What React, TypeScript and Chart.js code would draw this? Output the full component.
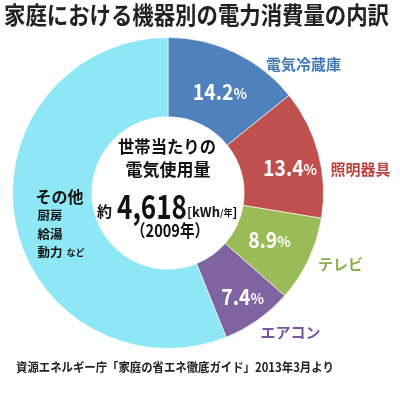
import React, { useEffect, useRef } from "react";
import { Chart, registerables } from "chart.js";

Chart.register(...registerables);

const TITLE = "家庭における機器別の電力消費量の内訳";
const SOURCE = "資源エネルギー庁「家庭の省エネ徹底ガイド」2013年3月より";
const categories = ["電気冷蔵庫", "照明器具", "テレビ", "エアコン", "その他"];
const shares = [14.2, 13.4, 8.9, 7.4, 56.1];
const sliceColors = ["#4F81BD", "#C0504D", "#9BBB59", "#8064A2", "#8DE7F4"];
const labelColors = ["#4077B9", "#BE3E3C", "#8AAE45", "#7657A3", "#111111"];
const otherItems = ["厨房", "給湯", "動力"];
const centerLines = ["世帯当たりの", "電気使用量"];
const totalValue = "4,618";
const totalYear = "（2009年）";

const JP = '"Noto Sans CJK JP", "Noto Sans", sans-serif';

function txt(
  ctx: CanvasRenderingContext2D,
  s: string,
  x: number,
  y: number,
  size: number,
  color: string,
  align: CanvasTextAlign = "left",
  maxWidth?: number,
  weight = "bold"
) {
  ctx.font = `${weight} ${size}px ${JP}`;
  ctx.fillStyle = color;
  ctx.textAlign = align;
  ctx.textBaseline = "middle";
  if (maxWidth) ctx.fillText(s, x, y, maxWidth);
  else ctx.fillText(s, x, y);
}

const labelPlugin = {
  id: "labelPlugin",
  afterDraw(chart: any) {
    const ctx: CanvasRenderingContext2D = chart.ctx;
    const meta = chart.getDatasetMeta(0);
    const arc0 = meta.data[0];
    const cx = arc0.x;
    const cy = arc0.y;
    const R = arc0.outerRadius;
    const k = R / 156;
    ctx.save();

    // title & source
    txt(ctx, TITLE, 4, 15, 24, "#222222", "left", 385);
    txt(ctx, SOURCE, 16, 367, 12.5, "#222222", "left", 318);

    // percentage labels inside slices
    const pctR = [114, 125, 112, 128];
    const pctDA = [1.6, 3.2, -0.7, -0.5];
    for (let i = 0; i < 4; i++) {
      const a = meta.data[i];
      const mid = (a.startAngle + a.endAngle) / 2 + (pctDA[i] * Math.PI) / 180;
      const px = cx + Math.cos(mid) * pctR[i] * k;
      const py = cy + Math.sin(mid) * pctR[i] * k;
      const num = shares[i].toFixed(1);
      ctx.font = `bold 22px ${JP}`;
      const w1 = ctx.measureText(num).width * 0.88;
      ctx.font = `bold 14px ${JP}`;
      const w2 = ctx.measureText("%").width;
      const left = px - (w1 + w2) / 2;
      txt(ctx, num, left, py, 22, "#FFFFFF", "left", w1);
      txt(ctx, "%", left + w1, py + 2, 14, "#FFFFFF", "left");
    }

    // outside category labels
    const outOff = [
      [136, -129],
      [193, -24],
      [173, 72],
      [123, 140],
    ];
    for (let i = 0; i < 4; i++) {
      txt(ctx, categories[i], cx + outOff[i][0] * k, cy + outOff[i][1] * k, 15, labelColors[i], "center");
    }

    // その他 block
    const ox = cx - 133 * k;
    txt(ctx, categories[4], ox, cy + 4, 16, labelColors[4], "left");
    txt(ctx, otherItems[0], ox + 2, cy + 22, 12.5, "#111111", "left");
    txt(ctx, otherItems[1], ox + 2, cy + 41, 12.5, "#111111", "left");
    txt(ctx, otherItems[2], ox + 2, cy + 59, 12.5, "#111111", "left");
    txt(ctx, "など", ox + 31, cy + 60, 9, "#111111", "left");

    // center text
    txt(ctx, centerLines[0], cx - 1, cy - 46, 17, "#111111", "center", 98);
    txt(ctx, centerLines[1], cx, cy - 23, 17, "#111111", "center", 88);
    txt(ctx, "約", cx - 71, cy + 18, 15, "#111111", "left");
    txt(ctx, totalValue, cx - 51, cy + 13, 33, "#111111", "left", 70);
    let x = cx + 19;
    const ry = cy + 19;
    txt(ctx, "[kWh", x, ry, 13, "#111111", "left");
    ctx.font = `bold 13px ${JP}`;
    x += ctx.measureText("[kWh").width;
    txt(ctx, "/年", x, ry + 1, 9, "#111111", "left");
    ctx.font = `bold 9px ${JP}`;
    x += ctx.measureText("/年").width;
    txt(ctx, "]", x, ry, 13, "#111111", "left");
    txt(ctx, totalYear, cx + 2, cy + 38, 17, "#111111", "center", 78);

    ctx.restore();
  },
};

export default function App() {
  const ref = useRef<HTMLCanvasElement>(null);
  useEffect(() => {
    if (!ref.current) return;
    const chart = new Chart(ref.current, {
      type: "doughnut",
      data: {
        labels: categories,
        datasets: [
          {
            data: shares,
            backgroundColor: sliceColors,
            borderColor: "rgba(255,255,255,0.6)",
            borderWidth: 1,
          },
        ],
      },
      options: {
        responsive: false,
        animation: false,
        devicePixelRatio: 1,
        cutout: "49%",
        layout: { padding: { left: 12, top: 37, right: 76, bottom: 50 } },
        plugins: {
          legend: { display: false },
          tooltip: { enabled: false },
          title: { display: false },
        },
      },
      plugins: [labelPlugin],
    });
    return () => chart.destroy();
  }, []);
  return (
    <div style={{ position: "fixed", left: 0, top: 0, width: 400, height: 399, background: "#fff" }}>
      <canvas ref={ref} width={400} height={399} />
    </div>
  );
}
